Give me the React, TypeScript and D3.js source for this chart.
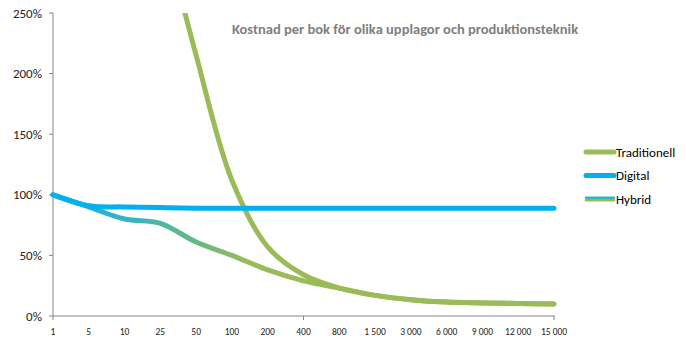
import React from "react";
import * as d3 from "d3";

const categories = ["1", "5", "10", "25", "50", "100", "200", "400", "800", "1 500", "3 000", "6 000", "9 000", "12 000", "15 000"];
const traditionell = [9.0, 6.0, 4.5, 3.3, 2.15, 1.12, 0.57, 0.34, 0.23, 0.17, 0.135, 0.115, 0.108, 0.103, 0.1];
const digital = [1.0, 0.91, 0.9, 0.895, 0.89, 0.89, 0.89, 0.89, 0.89, 0.89, 0.89, 0.89, 0.89, 0.89, 0.89];
const hybrid = [1.0, 0.9, 0.8, 0.765, 0.61, 0.5, 0.38, 0.29, 0.23, 0.17, 0.135, 0.115, 0.108, 0.103, 0.1];
const yTicks = [0, 0.5, 1, 1.5, 2, 2.5];
const title = "Kostnad per bok för olika upplagor och produktionsteknik";
const legendItems = [
  { name: "Traditionell", key: "trad" },
  { name: "Digital", key: "dig" },
  { name: "Hybrid", key: "hyb" },
];

const W = 686;
const H = 352;
const left = 53;
const right = 554;
const top = 13;
const bottom = 316;

export default function App() {
  const x = d3.scalePoint<string>().domain(categories).range([left, right]);
  const y = d3.scaleLinear().domain([0, 2.5]).range([bottom, top]);
  const line = d3
    .line<number>()
    .x((_, i) => x(categories[i]) as number)
    .y((d) => y(d))
    .curve(d3.curveCatmullRom.alpha(0.5));

  const green = "#9BBB59";
  const blue = "#00B0F0";
  const strokes: Record<string, string> = { trad: green, dig: blue, hyb: "url(#hybGrad)" };

  return (
    <svg width={W} height={H} style={{ position: "absolute", left: 0, top: 0, background: "#fff" }} fontFamily="Carlito, Calibri, 'Open Sans', sans-serif">
      <defs>
        <clipPath id="plot">
          <rect x={left - 5} y={top} width={right - left + 10} height={bottom - top + 5} />
        </clipPath>
        <linearGradient id="hybGrad" gradientUnits="userSpaceOnUse" x1={left} y1={0} x2={250} y2={0}>
          <stop offset="0" stopColor="#10B0EC" />
          <stop offset="0.35" stopColor="#30B5C6" />
          <stop offset="0.75" stopColor="#6DB97C" />
          <stop offset="1" stopColor={green} />
        </linearGradient>
        <linearGradient id="legGrad" x1="0" x2="0" y1="0" y2="1">
          <stop offset="0" stopColor="#30B5C6" />
          <stop offset="1" stopColor={green} />
        </linearGradient>
      </defs>

      <text x={405} y={34} textAnchor="middle" fontSize={14.5} fontWeight="bold" fill="#7F7F7F">
        {title}
      </text>

      {/* axes */}
      <line x1={left} x2={left} y1={top} y2={bottom} stroke="#868686" strokeWidth={1} />
      <line x1={left} x2={right + 1} y1={bottom} y2={bottom} stroke="#868686" strokeWidth={1} />
      {yTicks.map((t) => (
        <g key={t}>
          <line x1={left - 4} x2={left} y1={y(t)} y2={y(t)} stroke="#868686" />
          <text x={42} y={y(t)} dy="0.35em" textAnchor="end" fontSize={13} fill="#222">
            {Math.round(t * 100) + "%"}
          </text>
        </g>
      ))}
      {categories.map((c, i) => (
        <g key={c}>
          {i % 7 === 0 && <line x1={x(c)} x2={x(c)} y1={bottom} y2={bottom + 4} stroke="#868686" />}
          <text x={x(c)} y={335} textAnchor="middle" fontSize={9.5} fill="#222">
            {c}
          </text>
        </g>
      ))}

      <g clipPath="url(#plot)" fill="none" strokeWidth={5} strokeLinecap="round" strokeLinejoin="round">
        <path d={line(hybrid) || ""} stroke="url(#hybGrad)" />
        <path d={line(traditionell) || ""} stroke={green} />
        <path d={line(digital) || ""} stroke={blue} />
      </g>

      {legendItems.map((it, i) => {
        const ly = 152 + i * 23.5;
        return (
          <g key={it.key}>
            <line x1={586} x2={614} y1={ly} y2={ly} stroke={it.key === "hyb" ? "url(#legGrad)" : strokes[it.key]} strokeWidth={5} strokeLinecap="round" />
            {it.key === "hyb" && (
              <>
                <line x1={586} x2={614} y1={ly - 1.2} y2={ly - 1.2} stroke="#30B5C6" strokeWidth={2.5} strokeLinecap="round" />
                <line x1={586} x2={614} y1={ly + 1.2} y2={ly + 1.2} stroke={green} strokeWidth={2.5} strokeLinecap="round" />
              </>
            )}
            <text x={616} y={ly} dy="0.35em" fontSize={13} fill="#000">
              {it.name}
            </text>
          </g>
        );
      })}
    </svg>
  );
}
